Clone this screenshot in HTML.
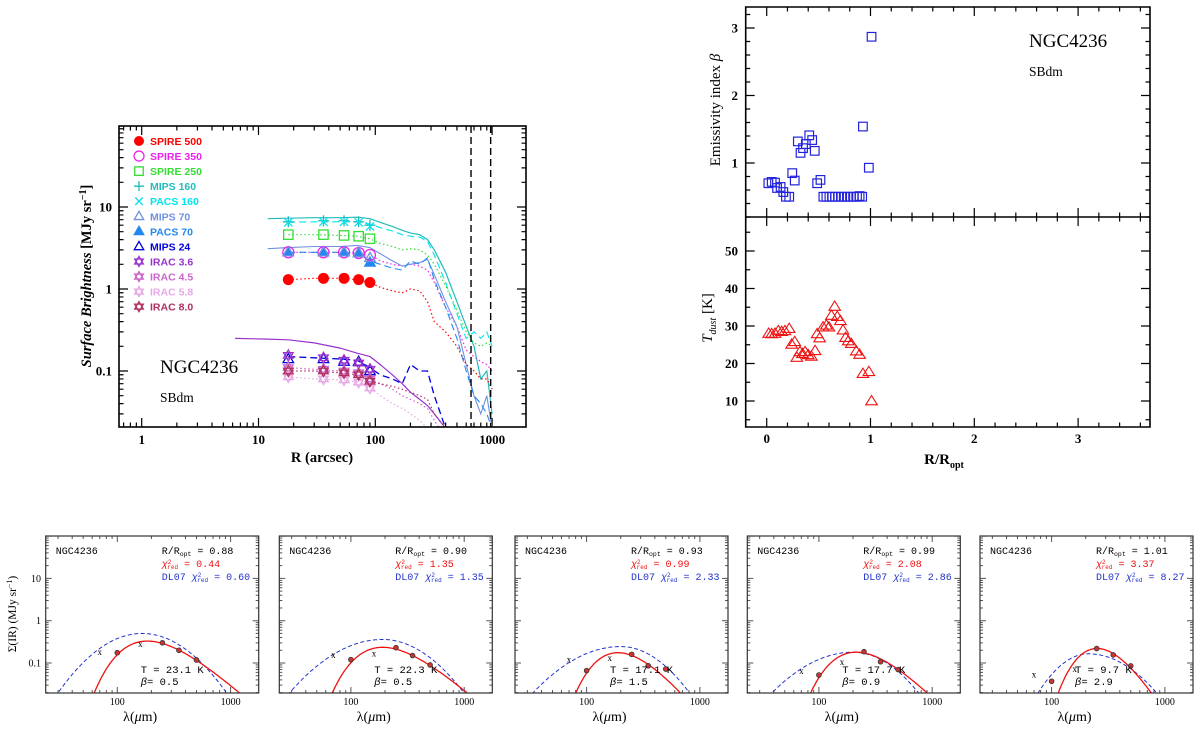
<!DOCTYPE html>
<html><head><meta charset="utf-8"><title>NGC4236 dust profiles</title>
<style>
html,body{margin:0;padding:0;background:#fff;width:1200px;height:730px;overflow:hidden;}
svg{display:block;}
text{font-family:"Liberation Serif",serif;}
.lg{font-family:"Liberation Sans",sans-serif;font-weight:bold;font-size:10.5px;}
.mono{font-family:"Liberation Mono",monospace;}
</style></head>
<body>
<svg id="fig" width="1200" height="730" viewBox="0 0 1200 730" xmlns="http://www.w3.org/2000/svg">
<defs>
<clipPath id="clipMain"><rect x="119" y="126" width="407" height="301"/></clipPath>
<clipPath id="clipB0"><rect x="45.7" y="536" width="213" height="157"/></clipPath>
<clipPath id="clipB1"><rect x="279.3" y="536" width="213" height="157"/></clipPath>
<clipPath id="clipB2"><rect x="515" y="536" width="213" height="157"/></clipPath>
<clipPath id="clipB3"><rect x="747.3" y="536" width="213" height="157"/></clipPath>
<clipPath id="clipB4"><rect x="980" y="536" width="213" height="157"/></clipPath>
</defs>
</svg>
<script>
// ===== Main panel data =====
const lineR = [6.3,12,18,30,50,70,90,110,140,170,200,240,280,320,400,500,600,700,800,900,1000];
const mips160Line = [null,7.2,7.3,7.4,7.4,7.5,7.2,6.5,5.8,5.2,4.8,4.6,4.0,3.0,1.6,0.7,0.35,0.2,0.08,0.1,0.03];
const pacs160Line = [null,null,6.5,6.6,6.6,6.6,6.2,5.6,5.1,4.6,4.4,4.3,3.8,2.6,1.2,0.5,0.25,0.3,0.25,0.3,0.2];
const spire250Line = [null,null,4.6,4.6,4.5,4.4,4.1,3.6,3.3,3.0,3.1,3.0,2.6,2.0,1.1,0.55,0.3,0.22,0.2,0.22,0.2];
const spire350Line = [null,null,2.8,2.8,2.8,2.75,2.6,2.2,2.0,1.9,2.0,1.9,1.7,1.2,0.6,0.35,0.18,0.15,0.13,0.12,0.1];
const mips70Line = [null,3.1,3.2,3.3,3.3,3.4,3.2,2.7,2.2,1.9,2.0,2.1,2.3,1.5,0.7,0.35,0.12,0.05,0.03,0.05,0.02];
const pacs70Line = [null,null,2.8,2.8,2.8,2.75,2.2,2.0,1.8,1.7,2.2,2.0,2.4,1.3,0.6,0.25,0.1,0.05,0.04,0.03,0.02];
const spire500Line = [null,null,1.3,1.35,1.35,1.3,1.2,1.05,0.95,0.9,1.0,0.95,0.7,0.4,0.3,0.2,0.12,0.1,0.08,0.08,0.06];
const irac36Line = [0.25,0.245,0.24,0.22,0.19,0.165,0.15,0.12,0.09,0.07,0.055,0.045,0.038,0.03,0.02,0.01,null,null,null,null,null];
const mips24Line = [null,null,0.15,0.145,0.14,0.135,0.11,0.09,0.08,0.07,0.12,0.1,0.1,0.05,0.02,0.01,null,null,null,null,null];
const irac45Line = [null,null,0.11,0.105,0.1,0.095,0.08,0.07,0.06,0.05,0.045,0.04,0.035,0.025,0.015,null,null,null,null,null,null];
const irac58Line = [null,null,0.085,0.08,0.078,0.073,0.062,0.05,0.04,0.035,0.03,0.025,0.02,0.015,null,null,null,null,null,null,null];
const irac80Line = [null,null,0.1,0.1,0.095,0.09,0.075,0.07,0.065,0.06,0.055,0.05,0.045,0.03,0.02,0.01,null,null,null,null,null];

const markR = [18,36,54,72,90];
const spire500Pts = [1.3,1.35,1.35,1.3,1.2];
const spire350Pts = [2.8,2.8,2.8,2.75,2.6];
const spire250Pts = [4.6,4.6,4.5,4.4,4.1];
const mips160Pts = [6.6,6.8,6.8,6.6,6.0];
const pacs160Pts = [6.5,6.6,6.6,6.5,5.8];
const mips70Pts = [2.8,2.8,2.8,2.75,2.4];
const pacs70Pts = [2.8,2.8,2.8,2.75,2.1];
const mips24Pts = [0.14,0.14,0.13,0.13,0.1];
const irac36Pts = [0.155,0.145,0.135,0.125,0.105];
const irac45Pts = [0.11,0.105,0.1,0.095,0.08];
const irac58Pts = [0.085,0.08,0.078,0.073,0.062];
const irac80Pts = [0.1,0.1,0.095,0.09,0.075];
const vlineR = [660,972];
const legendLabels = ["SPIRE 500","SPIRE 350","SPIRE 250","MIPS 160","PACS 160","MIPS 70","PACS 70","MIPS 24","IRAC 3.6","IRAC 4.5","IRAC 5.8","IRAC 8.0"];

// ===== Right panels data =====
const betaR = [0.016,0.048,0.08,0.10,0.134,0.16,0.185,0.217,0.246,0.27,0.30,0.326,0.35,0.377,0.41,0.438,0.463,0.486,0.518,0.546,0.575,0.604,0.632,0.66,0.69,0.72,0.75,0.78,0.81,0.84,0.87,0.895,0.92,0.927,0.984,1.01];
const betaV = [0.70,0.72,0.71,0.63,0.645,0.57,0.50,0.50,0.85,0.74,1.32,1.15,1.22,1.28,1.41,1.34,1.18,0.70,0.75,0.5,0.5,0.5,0.5,0.5,0.5,0.5,0.5,0.5,0.5,0.5,0.5,0.51,0.50,1.54,0.93,2.87];
const tempR = [0.019,0.048,0.08,0.112,0.144,0.176,0.217,0.24,0.27,0.29,0.32,0.345,0.37,0.40,0.43,0.466,0.486,0.51,0.543,0.575,0.60,0.623,0.655,0.68,0.71,0.735,0.76,0.786,0.815,0.863,0.895,0.927,0.984,1.01];
const tempV = [28.0,27.9,28.0,28.7,28.5,28.7,29.3,25.1,25.8,21.6,23.1,22.6,23.1,22.3,21.9,23.4,27.9,26.8,29.7,30.2,29.7,32.8,35.2,32.5,31.4,28.9,26.9,26.0,25.3,23.3,22.4,17.3,17.8,10.0];

// ===== Bottom SED panels data =====
const sedRopt = ["0.88","0.90","0.93","0.99","1.01"];
const sedChi = ["0.44","1.35","0.99","2.08","3.37"];
const sedChiDL = ["0.60","1.35","2.33","2.86","8.27"];
const sedT = [23.1,22.3,17.1,17.7,9.7];
const sedBeta = [0.5,0.5,1.5,0.9,2.9];
const sedRedPeak = [0.33,0.235,0.175,0.18,0.22];
const sedBluePeak = [0.5,0.36,0.245,0.18,0.165];
const sedBluePeakWl = [165,190,200,200,210];
const sedBlueWL = [0.625,0.73,0.74,0.73,0.46];
const sedBlueWR = [0.63,0.64,0.58,0.59,0.63];
const sedCircWl = [100,250,350,500];
const sedCircV = [[0.175,0.3,0.2,0.118],[0.12,0.23,0.15,0.09],[0.066,0.16,0.086,0.072],[0.052,0.185,0.107,0.07],[0.037,0.22,0.155,0.085]];
const sedCrossWl = [70,160];
const sedCrossV = [[0.18,0.28],[0.155,0.17],[0.12,0.13],[0.065,0.107],[0.054,0.072]];

// ===== helpers =====
const NS = "http://www.w3.org/2000/svg";
const svg = document.getElementById('fig');
function mk(tag, attrs, parent){
  const e = document.createElementNS(NS, tag);
  for (const k in attrs) e.setAttribute(k, attrs[k]);
  (parent || svg).appendChild(e);
  return e;
}
function grp(parent){ return mk('g', {}, parent); }
const L10 = Math.log10;

// ===== MAIN PANEL =====
const mainG = grp();


const mx = r => 141.7 + 116.8 * L10(r);
const my = v => 289 - 82 * L10(v);
const MX0 = 119, MX1 = 526, MY0 = 126, MY1 = 427;

const mainTicks = grp(mainG);


let tp = '';
for (let d = -1; d <= 3; d++) for (let m = 1; m <= 9; m++) {
  const x = mx(m * Math.pow(10, d)); if (x < MX0 || x > MX1) continue;
  const len = m === 1 ? 9 : 4.5;
  tp += `M${x},${MY1}v${-len}M${x},${MY0}v${len}`;
}
for (let d = -2; d <= 2; d++) for (let m = 1; m <= 9; m++) {
  const y = my(m * Math.pow(10, d)); if (y < MY0 || y > MY1) continue;
  const len = m === 1 ? 9 : 4.5;
  tp += `M${MX0},${y}h${len}M${MX1},${y}h${-len}`;
}
mk('path', {d: tp, stroke: '#000', 'stroke-width': 1.2, fill: 'none'}, mainTicks);

const mainXLabels = [1,10,100,1000];
mainXLabels.forEach(v => {
  const t = mk('text', {x: mx(v), y: 444, 'text-anchor': 'middle', 'font-size': 13, 'font-weight': 'bold'}, mainG);
  
  
  t.textContent = v;
});
const mainYLabels = [10,1,0.1];
mainYLabels.forEach(v => {
  const t = mk('text', {x: 112, y: my(v) + 4.5, 'text-anchor': 'end', 'font-size': 13, 'font-weight': 'bold'}, mainG);
  
  
  t.textContent = v;
});
const mxt = mk('text', {x: 322, y: 462, 'text-anchor': 'middle', 'font-size': 14.5, 'font-weight': 'bold'}, mainG);


mxt.textContent = 'R (arcsec)';
const myt = mk('text', {x: 0, y: 0, 'text-anchor': 'middle', 'font-size': 14.5, 'font-weight': 'bold', 'font-style': 'italic', transform: 'translate(91,276) rotate(-90)'}, mainG);


myt.innerHTML = 'Surface Brightness <tspan font-style="normal">[MJy sr<tspan dy="-5" font-size="10">−1</tspan><tspan dy="5">]</tspan></tspan>';

const plotG = mk('g', {'clip-path': 'url(#clipMain)'}, mainG);



function profileLine(vals, color, dash, w, name){
  let d = '', pen = false;
  vals.forEach((v, i) => {
    if (v === null) { pen = false; return; }
    d += (pen ? 'L' : 'M') + mx(lineR[i]).toFixed(1) + ',' + my(v).toFixed(1);
    pen = true;
  });
  const p = mk('path', {d: d, stroke: color, 'stroke-width': w || 1.1, fill: 'none', 'stroke-dasharray': dash || 'none'}, plotG);
  
  
}
const COL = {s500:'#ff0000', s350:'#ee22ee', s250:'#33dd33', m160:'#22bbbb', p160:'#00e5ee', m70:'#7090e0', p70:'#2288ee', m24:'#0000dd', i36:'#9933cc', i45:'#cc66cc', i58:'#e8a8e8', i80:'#b03060'};
profileLine(mips160Line, COL.m160, null, 1.2, 'mips160-profile');
profileLine(pacs160Line, COL.p160, '7,4', 1.1, 'pacs160-profile');
profileLine(spire250Line, COL.s250, '1.5,2.5', 1.2, 'spire250-profile');
profileLine(spire350Line, COL.s350, '1.5,2.5', 1.2, 'spire350-profile');
profileLine(mips70Line, COL.m70, null, 1.1, 'mips70-profile');
profileLine(pacs70Line, COL.p70, '7,4', 1.1, 'pacs70-profile');
profileLine(spire500Line, COL.s500, '1.5,2.5', 1.2, 'spire500-profile');
profileLine(irac36Line, COL.i36, null, 1.2, 'irac36-profile');
profileLine(mips24Line, COL.m24, '7,4', 1.3, 'mips24-profile');
profileLine(irac45Line, COL.i45, '1.5,2.5', 1.2, 'irac45-profile');
profileLine(irac58Line, COL.i58, '1.5,2.5', 1.2, 'irac58-profile');
profileLine(irac80Line, COL.i80, '1.5,2.5', 1.2, 'irac80-profile');

vlineR.forEach(r => {
  const l = mk('line', {x1: mx(r), x2: mx(r), y1: MY0, y2: MY1, stroke: '#000', 'stroke-width': 1.4, 'stroke-dasharray': '7,4'}, plotG);
  
  
});

function marker(parent, shape, x, y, color, s){
  s = s || 5.5;
  let e;
  const st = {stroke: color, 'stroke-width': 1.3, fill: 'none'};
  if (shape === 'fcircle') e = mk('circle', {cx: x, cy: y, r: s, fill: color}, parent);
  else if (shape === 'ocircle') e = mk('circle', Object.assign({cx: x, cy: y, r: s}, st), parent);
  else if (shape === 'square') e = mk('rect', Object.assign({x: x - s*0.85, y: y - s*0.85, width: s*1.7, height: s*1.7}, st), parent);
  else if (shape === 'plus') e = mk('path', Object.assign({d: `M${x-s},${y}h${2*s}M${x},${y-s}v${2*s}`}, st), parent);
  else if (shape === 'cross') e = mk('path', Object.assign({d: `M${x-s*0.75},${y-s*0.75}l${1.5*s},${1.5*s}M${x-s*0.75},${y+s*0.75}l${1.5*s},${-1.5*s}`}, st), parent);
  else if (shape === 'otri' || shape === 'ftri') {
    const a = `M${x},${y-s}L${x+s*0.95},${y+s*0.65}L${x-s*0.95},${y+s*0.65}Z`;
    e = mk('path', Object.assign({d: a}, st, shape === 'ftri' ? {fill: color} : {}), parent);
  } else if (shape === 'star') {
    const a = `M${x},${y-s}L${x+s*0.87},${y+s*0.5}L${x-s*0.87},${y+s*0.5}ZM${x},${y+s}L${x+s*0.87},${y-s*0.5}L${x-s*0.87},${y-s*0.5}Z`;
    e = mk('path', Object.assign({d: a}, st), parent);
  }
  return e;
}
const seriesDefs = [
  [spire500Pts,'fcircle',COL.s500,'spire500-point'],
  [spire350Pts,'ocircle',COL.s350,'spire350-point'],
  [spire250Pts,'square',COL.s250,'spire250-point'],
  [mips160Pts,'plus',COL.m160,'mips160-point'],
  [pacs160Pts,'cross',COL.p160,'pacs160-point'],
  [mips70Pts,'otri',COL.m70,'mips70-point'],
  [pacs70Pts,'ftri',COL.p70,'pacs70-point'],
  [mips24Pts,'otri',COL.m24,'mips24-point'],
  [irac36Pts,'star',COL.i36,'irac36-point'],
  [irac45Pts,'star',COL.i45,'irac45-point'],
  [irac58Pts,'star',COL.i58,'irac58-point'],
  [irac80Pts,'star',COL.i80,'irac80-point']
];
[6,0,1,2,3,4,5,7,8,9,10,11].forEach(si => {
  const sd = seriesDefs[si];
  sd[0].forEach((v, i) => {
    const m = marker(plotG, sd[1], mx(markR[i]), my(v), sd[2], 5.5);
    
    
  });
});

// legend
const legG = grp(mainG);


legendLabels.forEach((lab, i) => {
  const sd = seriesDefs[i];
  const y = 141 + i * 15.06;
  const m = marker(legG, sd[1], 139, y, sd[2], 5);
  
  
  const t = mk('text', {x: 150, y: y + 4, class: 'lg', fill: sd[2]}, legG);
  
  
  t.textContent = lab;
});
const gn = mk('text', {x: 160, y: 373, 'font-size': 19}, mainG);


gn.textContent = 'NGC4236';
const gt = mk('text', {x: 160, y: 402, 'font-size': 13.5}, mainG);


gt.textContent = 'SBdm';
const mf = mk('rect', {x: MX0, y: MY0, width: MX1 - MX0, height: MY1 - MY0, fill: 'none', stroke: '#000', 'stroke-width': 1.6}, mainG);



// ===== RIGHT PANELS =====
const rG = grp();


const RX0 = 745.7, RX1 = 1150, RY0 = 7, RYM = 217, RY1 = 427;
const rx = R => 766.7 + 103.8 * R;
const by = b => 163 - 67.5 * (b - 1);
const ty = T => 401 - 3.75 * (T - 10);
let rt = '';
for (let v = -0.2; v <= 3.61; v += 0.2) {
  const x = rx(v); if (x < RX0 || x > RX1) continue;
  const major = Math.abs(v - Math.round(v)) < 0.01;
  const len = major ? 9 : 4.5;
  rt += `M${x},${RY1}v${-len}M${x},${RY0}v${len}M${x},${RYM}v${-len}M${x},${RYM}v${len}`;
}
for (let v = 0.2; v <= 3.31; v += 0.2) {
  const y = by(v); if (y < RY0 || y > RYM) continue;
  const major = Math.abs(v - Math.round(v)) < 0.01;
  const len = major ? 9 : 4.5;
  rt += `M${RX0},${y}h${len}M${RX1},${y}h${-len}`;
}
for (let v = 5; v <= 58; v += 5) {
  const y = ty(v); if (y < RYM || y > RY1) continue;
  const len = v % 10 === 0 ? 9 : 4.5;
  rt += `M${RX0},${y}h${len}M${RX1},${y}h${-len}`;
}
const rtp = mk('path', {d: rt, stroke: '#000', 'stroke-width': 1.2, fill: 'none'}, rG);



const rXLabels = [0,1,2,3];
rXLabels.forEach(v => {
  const t = mk('text', {x: rx(v), y: 443, 'text-anchor': 'middle', 'font-size': 13, 'font-weight': 'bold'}, rG);
  
  
  t.textContent = v;
});
const betaYLabels = [1,2,3];
betaYLabels.forEach(v => {
  const t = mk('text', {x: 738, y: by(v) + 4.5, 'text-anchor': 'end', 'font-size': 13, 'font-weight': 'bold'}, rG);
  
  
  t.textContent = v;
});
const tempYLabels = [10,20,30,40,50];
tempYLabels.forEach(v => {
  const t = mk('text', {x: 738, y: ty(v) + 4.5, 'text-anchor': 'end', 'font-size': 13, 'font-weight': 'bold'}, rG);
  
  
  t.textContent = v;
});
const rxt = mk('text', {x: 944, y: 464, 'text-anchor': 'middle', 'font-size': 15, 'font-weight': 'bold'}, rG);


rxt.innerHTML = 'R/R<tspan dy="4" font-size="10">opt</tspan>';
const byt = mk('text', {x: 0, y: 0, 'text-anchor': 'middle', 'font-size': 15, transform: 'translate(720,110) rotate(-90)'}, rG);


byt.innerHTML = 'Emissivity index <tspan font-style="italic">β</tspan>';
const tyt = mk('text', {x: 0, y: 0, 'text-anchor': 'middle', 'font-size': 15, transform: 'translate(712,318) rotate(-90)'}, rG);


tyt.innerHTML = '<tspan font-style="italic">T</tspan><tspan dy="4" font-size="10" font-style="italic">dust</tspan><tspan dy="-4">  [K]</tspan>';

betaV.forEach((v, i) => {
  const s = 4.3;
  const r = mk('rect', {x: rx(betaR[i]) - s, y: by(v) - s, width: 2*s, height: 2*s, fill: 'none', stroke: '#2222dd', 'stroke-width': 1.2}, rG);
  
  
});
tempV.forEach((v, i) => {
  const x = rx(tempR[i]), y = ty(v), s = 5.5;
  const p = mk('path', {d: `M${x},${y-s}L${x+s*1.05},${y+s*0.7}L${x-s*1.05},${y+s*0.7}Z`, fill: 'none', stroke: '#ee1111', 'stroke-width': 1.1}, rG);
  
  
});
const rn = mk('text', {x: 1029, y: 47, 'font-size': 19}, rG);


rn.textContent = 'NGC4236';
const rtyp = mk('text', {x: 1029, y: 76, 'font-size': 13.5}, rG);


rtyp.textContent = 'SBdm';
const rf = mk('path', {d: `M${RX0},${RY0}H${RX1}V${RY1}H${RX0}ZM${RX0},${RYM}H${RX1}`, fill: 'none', stroke: '#000', 'stroke-width': 1.6}, rG);



// ===== BOTTOM SED PANELS =====
const panelLeft = [45.7, 279.3, 515, 747.3, 980];
const BW = 213, BY0 = 536, BY1 = 693;
function mbb(l, T, b){ return Math.pow(l, -(3 + b)) / (Math.exp(14388 / (l * T)) - 1); }
panelLeft.forEach((L, p) => {
  const g = grp();
  
  
  const bx = l => L + 71.6 + 113.3 * (L10(l) - 2);
  const bv = v => 620.7 - 42.3 * L10(v);
  let d = '';
  for (let e = 1; e <= 3; e++) for (let m = 1; m <= 9; m++) {
    const x = bx(m * Math.pow(10, e)); if (x < L || x > L + BW) continue;
    const len = m === 1 ? 6 : 3;
    d += `M${x},${BY1}v${-len}M${x},${BY0}v${len}`;
  }
  for (let e = -2; e <= 2; e++) for (let m = 1; m <= 9; m++) {
    const y = bv(m * Math.pow(10, e)); if (y < BY0 || y > BY1) continue;
    const len = m === 1 ? 6 : 3;
    d += `M${L},${y}h${len}M${L + BW},${y}h${-len}`;
  }
  const tk = mk('path', {d: d, stroke: '#555', 'stroke-width': 1, fill: 'none'}, g);
  
  
  [100, 1000].forEach(v => {
    const t = mk('text', {x: bx(v), y: 705, 'text-anchor': 'middle', 'font-size': 10}, g);
    
    
    t.textContent = v;
  });
  const xt = mk('text', {x: L + BW/2 - 12, y: 721, 'text-anchor': 'middle', 'font-size': 14}, g);
  
  
  xt.innerHTML = 'λ(<tspan font-style="italic">μ</tspan>m)';
  if (p === 0) {
    [10, 1, 0.1].forEach(v => {
      const t = mk('text', {x: 41, y: bv(v) + 3.5, 'text-anchor': 'end', 'font-size': 10}, g);
      
      
      t.textContent = v;
    });
    const yt = mk('text', {x: 0, y: 0, 'text-anchor': 'middle', 'font-size': 11.5, transform: 'translate(16,614) rotate(-90)'}, g);
    
    
    yt.innerHTML = 'Σ(IR)  (MJy sr<tspan dy="-4" font-size="8">−1</tspan><tspan dy="4">)</tspan>';
  }
  const cg = mk('g', {'clip-path': `url(#clipB${p})`}, g);
  let bd = '';
  for (let i = 0; i <= 120; i++) {
    const ll = 1.3 + i * 0.015, l = Math.pow(10, ll);
    const dl = ll - L10(sedBluePeakWl[p]);
    const w = dl < 0 ? sedBlueWL[p] : sedBlueWR[p];
    const v = L10(sedBluePeak[p]) - (dl / w) * (dl / w);
    bd += (i ? 'L' : 'M') + bx(l).toFixed(1) + ',' + (620.7 - 42.3 * v).toFixed(1);
  }
  const bl = mk('path', {d: bd, stroke: '#2233cc', 'stroke-width': 1, fill: 'none', 'stroke-dasharray': '4,2.5'}, cg);
  
  
  let mxv = 0;
  for (let i = 0; i <= 200; i++) { const l = Math.pow(10, 1.3 + i * 0.009); mxv = Math.max(mxv, mbb(l, sedT[p], sedBeta[p])); }
  let rd = '';
  for (let i = 0; i <= 200; i++) {
    const l = Math.pow(10, 1.5 + i * 0.009);
    const v = mbb(l, sedT[p], sedBeta[p]) / mxv * sedRedPeak[p];
    if (v < 0.005) { continue; }
    rd += (rd ? 'L' : 'M') + bx(l).toFixed(1) + ',' + bv(v).toFixed(1);
  }
  const rl = mk('path', {d: rd, stroke: '#ee1111', 'stroke-width': 1.3, fill: 'none'}, cg);
  
  
  sedCircV[p].forEach((v, i) => {
    const c = mk('circle', {cx: bx(sedCircWl[i]), cy: bv(v), r: 2.4, fill: '#cc3333', stroke: '#333', 'stroke-width': 0.8}, cg);
    
    
  });
  sedCrossV[p].forEach((v, i) => {
    const t = mk('text', {x: bx(sedCrossWl[i]), y: bv(v) + 3, 'text-anchor': 'middle', 'font-size': 9}, cg);
    
    
    t.textContent = 'x';
  });
  const t1 = mk('text', {x: L + 10, y: 554, 'font-size': 10, class: 'mono'}, g);
  
  
  t1.textContent = 'NGC4236';
  const t2 = mk('text', {x: L + 116, y: 554, 'font-size': 10, class: 'mono'}, g);
  
  
  t2.innerHTML = 'R/R<tspan dy="2" font-size="6.5">opt</tspan><tspan dy="-2"> = ' + sedRopt[p] + '</tspan>';
  const t3 = mk('text', {x: L + 116, y: 567, 'font-size': 10, fill: '#ee1111', class: 'mono'}, g);
  
  
  t3.innerHTML = '<tspan font-style="italic">χ</tspan><tspan dy="-3" font-size="6">2</tspan><tspan dx="-4" dy="5" font-size="6">red</tspan><tspan dy="-2"> = ' + sedChi[p] + '</tspan>';
  const t4 = mk('text', {x: L + 116, y: 580, 'font-size': 10, fill: '#2233cc', class: 'mono'}, g);
  
  
  t4.innerHTML = 'DL07 <tspan font-style="italic">χ</tspan><tspan dy="-3" font-size="6">2</tspan><tspan dx="-4" dy="5" font-size="6">red</tspan><tspan dy="-2"> = ' + sedChiDL[p] + '</tspan>';
  const t5 = mk('text', {x: L + 95, y: 673, 'font-size': 10.5, class: 'mono'}, g);
  
  
  t5.textContent = 'T = ' + (sedT[p] < 10 ? ' ' : '') + sedT[p].toFixed(1) + ' K';
  const t6 = mk('text', {x: L + 95, y: 685, 'font-size': 10.5, class: 'mono'}, g);
  
  
  t6.innerHTML = '<tspan font-style="italic">β</tspan>= ' + sedBeta[p].toFixed(1);
  const fr = mk('rect', {x: L, y: BY0, width: BW, height: BY1 - BY0, fill: 'none', stroke: '#333', 'stroke-width': 1.2}, g);
  
  
});
</script>
</body></html>
